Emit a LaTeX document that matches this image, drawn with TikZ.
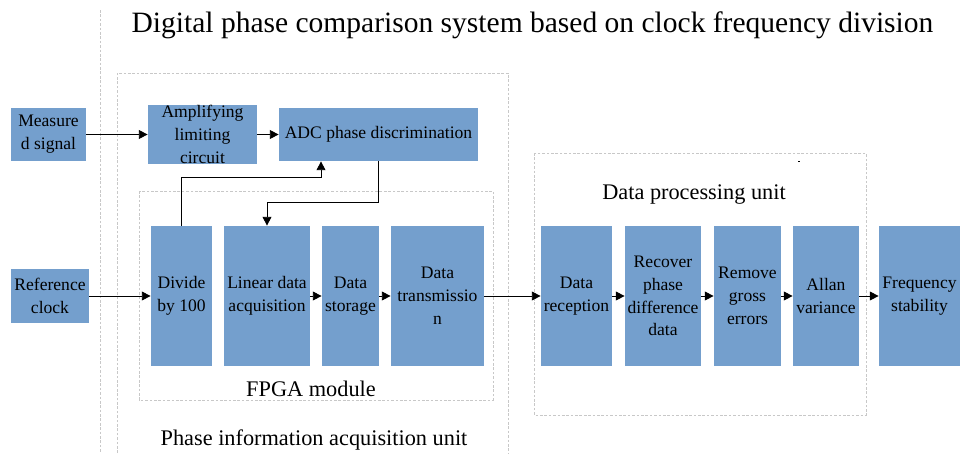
\documentclass[tikz,border=0pt]{standalone}
\usepackage{fontspec}
\newfontfamily\tms{Liberation Serif}
\usetikzlibrary{arrows.meta}
\usetikzlibrary{calc}
\definecolor{blk}{RGB}{116,159,205}
\definecolor{dsh}{RGB}{200,200,200}

\tikzset{
  box/.style 2 args={fill=blk, inner sep=0pt, align=center,
    minimum width=#1*0.02cm, minimum height=#2*0.02cm,
    font=\tms\fontsize{10}{13}\selectfont},
  arr/.style={-{Triangle[length=5pt,width=5pt]}, line width=0.5pt},
  frame/.style={dsh, line width=0.5pt, dash pattern=on 1.5pt off 1pt},
  lbl/.style={font=\tms\fontsize{12.7}{15}\selectfont}
}

\begin{document}
\begin{tikzpicture}[x=0.02cm,y=-0.02cm]
\useasboundingbox (0,0) rectangle (960,453);

\node [font=\tms\fontsize{16.8}{20}\selectfont] (title) at (532.5,25) {Digital phase comparison system based on clock frequency division};

% dashed frames
\draw [frame] (100,10) -- (100,453);
\draw [frame] (117,453) -- (117,73) -- (508,73) -- (508,453);
\draw [frame] (139,191) rectangle (493,400);
\draw [frame] (534,153) rectangle (866,415);
\draw (798,161) -- (800,161);

% top row
\node [box={75}{53}] (v1) at (48.5,134.5) {Measure\\d signal};
\node [box={109}{53}] (v2) at (202.5,134.5) {Amplifying\\limiting\\circuit};
\node [box={199}{53}] (v3) at (378.5,134.5) {ADC phase discrimination};

% FPGA row
\node [box={78}{54}] (v4) at (50,296) {Reference\\clock};
\node [box={61}{140}] (v5) at (181.5,296) {Divide\\by 100};
\node [box={86}{140}] (v6) at (267,296) {Linear data\\acquisition};
\node [box={57}{140}] (v7) at (350.5,296) {Data\\storage};
\node [box={93}{140}] (v8) at (437.5,296) {Data\\transmissio\\n};

% processing row
\node [box={71}{140}] (v9) at (576.5,296) {Data\\reception};
\node [box={76}{140}] (v10) at (663,296) {Recover\\phase\\difference\\data};
\node [box={67}{140}] (v11) at (747.5,296) {Remove\\gross\\errors};
\node [box={66}{140}] (v12) at (826,296) {Allan\\variance};
\node [box={81}{140}] (v13) at (919.5,296) {Frequency\\stability};

\node [lbl] (l1) at (311,389) {FPGA module};
\node [lbl] (l2) at (694,195) {Data processing unit};
\node [lbl] (l3) at (314,440) {Phase information acquisition unit};

\coordinate (c1) at (321,177);
\coordinate (c2) at (378,202);

\draw [arr] (v1) -- (v2);
\draw [arr] (v2) -- (v3);
\draw [arr] (v4) -- (v5);
\draw [arr] (v6) -- (v7);
\draw [arr] (v7) -- (v8);
\draw [arr] (v8) -- (v9);
\draw [arr] (v9) -- (v10);
\draw [arr] (v10) -- (v11);
\draw [arr] (v11) -- (v12);
\draw [arr] (v12) -- (v13);
\draw [arr] (v5.north) |- (c1) -- (c1 |- v3.south);
\draw [arr] (c2 |- v3.south) -- (c2) -| (v6.north);
\end{tikzpicture}
\end{document}
